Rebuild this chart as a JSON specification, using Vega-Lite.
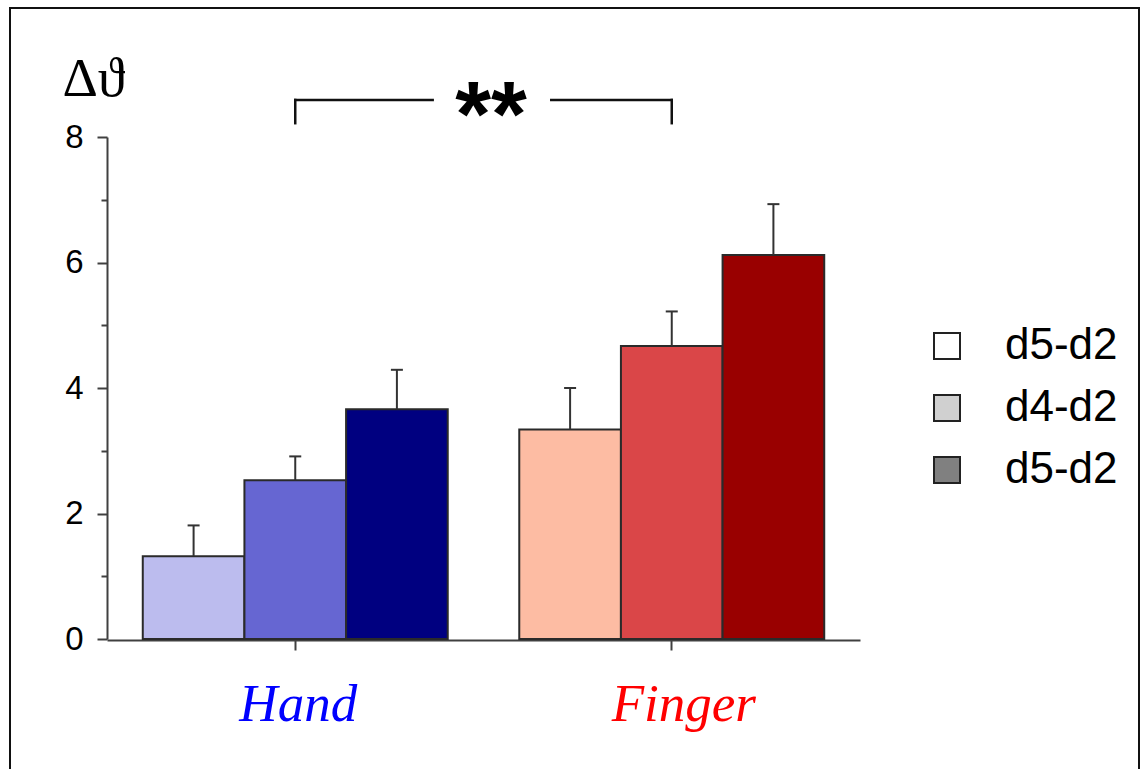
{
  "$schema": "https://vega.github.io/schema/vega-lite/v6.json",
  "width": 1129,
  "height": 762,
  "autosize": {"type": "none"},
  "padding": {"left": 10, "top": 8, "right": 2, "bottom": -1},
  "background": "white",
  "config": {
    "view": {"stroke": "#111111", "strokeWidth": 2, "fill": "white"},
    "axisY": {"labelFontSize": 33, "labelFont": "Liberation Sans"}
  },
  "datasets": {
    "bars": [
      {"group": "Hand", "pair": "d3-d2", "key": "Hand d3-d2", "mean": 1.32, "upper": 1.81},
      {"group": "Hand", "pair": "d4-d2", "key": "Hand d4-d2", "mean": 2.53, "upper": 2.91},
      {"group": "Hand", "pair": "d5-d2", "key": "Hand d5-d2", "mean": 3.66, "upper": 4.29},
      {"group": "Finger", "pair": "d3-d2", "key": "Finger d3-d2", "mean": 3.34, "upper": 4.0},
      {"group": "Finger", "pair": "d4-d2", "key": "Finger d4-d2", "mean": 4.67, "upper": 5.22},
      {"group": "Finger", "pair": "d5-d2", "key": "Finger d5-d2", "mean": 6.12, "upper": 6.93}
    ],
    "bracket": [
      {"x": 1, "x2": 1.73, "y": 8.59, "y2": 8.59},
      {"x": 2.36, "x2": 3, "y": 8.59, "y2": 8.59},
      {"x": 1, "x2": 1, "y": 8.22, "y2": 8.59},
      {"x": 3, "x2": 3, "y": 8.22, "y2": 8.59}
    ],
    "stars": [
      {"x": 2.04, "y": 8.59, "label": "**"}
    ]
  },
  "layer": [
    {
      "data": {"name": "bars"},
      "encoding": {
        "x": {
          "field": "group",
          "type": "nominal",
          "sort": ["Hand", "Finger"],
          "scale": {"range": [97, 850], "paddingInner": 0.19, "paddingOuter": 0.095},
          "axis": {
            "title": null,
            "orient": "bottom",
            "offset": -130,
            "labelAngle": 0,
            "domainColor": "#404040",
            "domainWidth": 2,
            "tickColor": "#404040",
            "tickWidth": 2,
            "tickSize": 10,
            "labelFont": "Liberation Serif",
            "labelFontStyle": "italic",
            "labelFontSize": 53,
            "labelBaseline": "alphabetic",
            "labelPadding": 70,
            "labelOffset": {"condition": {"test": "datum.value == 'Hand'", "value": 3}, "value": 12},
            "labelColor": {"condition": {"test": "datum.value == 'Hand'", "value": "#0000ff"}, "value": "#ff0000"}
          }
        },
        "xOffset": {
          "field": "pair",
          "type": "nominal",
          "sort": ["d3-d2", "d4-d2", "d5-d2"],
          "scale": {"paddingInner": 0, "paddingOuter": 0}
        }
      },
      "layer": [
        {
          "mark": {"type": "bar", "stroke": "#2a2a2a", "strokeWidth": 2},
          "encoding": {
            "y": {
              "field": "mean",
              "type": "quantitative",
              "scale": {"domain": [0, 8], "range": [631, 129], "nice": false},
              "axis": {
                "title": "Δϑ",
                "values": [0, 0.5, 1, 1.5, 2, 2.5, 3, 3.5, 4, 4.5, 5, 5.5, 6, 6.5, 7, 7.5, 8],
                "format": "d",
                "labelExpr": "datum.value % 2 === 0 ? datum.label : ''",
                "tickSize": {"condition": {"test": "datum.value % 2 === 0", "value": 10}, "value": 6},
                "offset": -97,
                "grid": false,
                "domainColor": "#404040",
                "domainWidth": 2,
                "tickColor": "#404040",
                "tickWidth": 2,
                "labelFont": "Liberation Sans",
                "labelFontSize": 33,
                "labelColor": "black",
                "labelPadding": 14,
                "titleAngle": 0,
                "titleX": -45,
                "titleY": 87,
                "titleAlign": "left",
                "titleBaseline": "alphabetic",
                "titleFont": "Liberation Serif, DejaVu Serif",
                "titleFontSize": 55,
                "titleFontWeight": "normal",
                "titleColor": "black"
              }
            },
            "color": {
              "field": "key",
              "type": "nominal",
              "scale": {
                "domain": ["Hand d3-d2", "Hand d4-d2", "Hand d5-d2", "Finger d3-d2", "Finger d4-d2", "Finger d5-d2"],
                "range": ["#bcbcee", "#6666d2", "#000080", "#fdbca3", "#da4648", "#990000"]
              },
              "legend": null
            }
          }
        },
        {
          "mark": {"type": "rule", "color": "#333333", "strokeWidth": 2},
          "encoding": {
            "y": {"field": "mean", "type": "quantitative"},
            "y2": {"field": "upper"},
            "fill": {
              "field": "pair",
              "type": "nominal",
              "scale": {"domain": ["d3-d2", "d4-d2", "d5-d2"], "range": ["#ffffff", "#d0d0d0", "#808080"]},
              "legend": {
                "title": null,
                "orient": "none",
                "legendX": 915,
                "legendY": 316,
                "padding": 0,
                "symbolType": "square",
                "symbolSize": 676,
                "symbolStrokeColor": "#222222",
                "symbolStrokeWidth": 2,
                "labelFont": "Liberation Sans",
                "labelFontSize": 44,
                "labelColor": "black",
                "labelOffset": 36,
                "rowPadding": 18,
                "labelExpr": "datum.label == 'd3-d2' ? 'd5-d2' : datum.label"
              }
            }
          }
        },
        {
          "mark": {"type": "tick", "orient": "horizontal", "color": "#333333", "size": 12, "thickness": 2, "opacity": 1},
          "encoding": {
            "y": {"field": "upper", "type": "quantitative"}
          }
        }
      ]
    },
    {
      "encoding": {
        "x": {"field": "x", "type": "quantitative", "scale": {"domain": [0, 4], "range": [97, 850]}, "axis": null},
        "y": {"field": "y", "type": "quantitative", "scale": {"domain": [0, 8], "range": [631, 129], "nice": false}}
      },
      "layer": [
        {
          "data": {"name": "bracket"},
          "mark": {"type": "rule", "color": "#111111", "strokeWidth": 2.5, "strokeCap": "square"},
          "encoding": {
            "x2": {"field": "x2"},
            "y2": {"field": "y2"}
          }
        },
        {
          "data": {"name": "stars"},
          "mark": {"type": "text", "font": "Liberation Sans", "fontWeight": "bold", "fontSize": 92, "align": "center", "baseline": "middle", "dy": 18, "color": "black"},
          "encoding": {
            "text": {"field": "label"}
          }
        }
      ]
    }
  ],
  "resolve": {"scale": {"x": "independent"}, "axis": {"x": "independent"}}
}
